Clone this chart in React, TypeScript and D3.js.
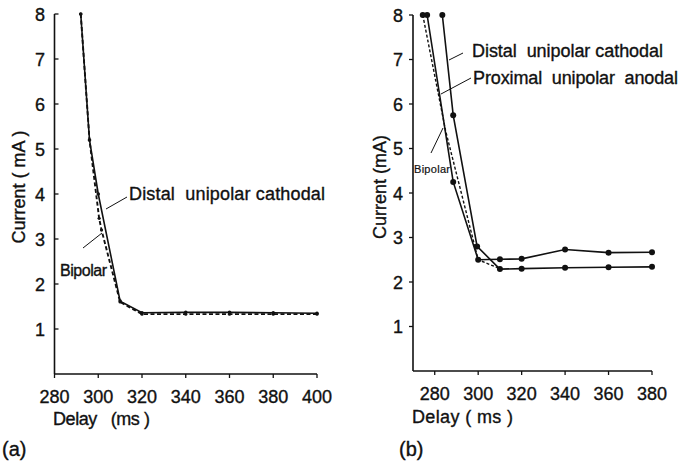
import React from "react";
import * as d3 from "d3";

// Panel (a)
const aTicksX = [280, 300, 320, 340, 360, 380, 400];
const aTicksY = [1, 2, 3, 4, 5, 6, 7, 8];
const aDistalX = [292, 296, 300, 310, 320, 340, 360, 380, 400];
const aDistalY = [8, 5.2, 4.0, 1.62, 1.36, 1.37, 1.37, 1.36, 1.35];
const aBipolarX = [292, 296, 300.4, 301.5, 310, 320, 340, 360, 380, 400];
const aBipolarY = [8, 5.2, 3.46, 3.2, 1.6, 1.33, 1.33, 1.33, 1.33, 1.33];

// Panel (b)
const bTicksX = [280, 300, 320, 340, 360, 380];
const bTicksY = [1, 2, 3, 4, 5, 6, 7, 8];
const bDistalX = [283.5, 288.5, 299.5, 310, 320, 340, 360, 380];
const bDistalY = [8, 5.75, 2.8, 2.29, 2.3, 2.32, 2.33, 2.34];
const bProxX = [276.5, 288.5, 300, 310, 320, 340, 360, 380];
const bProxY = [8, 4.25, 2.5, 2.51, 2.52, 2.73, 2.66, 2.67];
const bBipolarX = [274.5, 285, 300, 310];
const bBipolarY = [8, 5.4, 2.5, 2.3];

const FONT = "'Liberation Sans Narrow', 'Liberation Sans', Arial, sans-serif";

function zip(xs: number[], ys: number[]) {
  return xs.map((x, i) => [x, ys[i]] as [number, number]);
}

export default function App() {
  const ax = d3.scaleLinear().domain([280, 400]).range([54.5, 317]);
  const ay = d3.scaleLinear().domain([0, 8]).range([374, 14]);
  const bx = d3.scaleLinear().domain([270, 380]).range([413, 652]);
  const by = d3.scaleLinear().domain([0, 8]).range([371, 15]);

  const lineA = d3.line<[number, number]>().x((d) => ax(d[0])).y((d) => ay(d[1]));
  const lineB = d3.line<[number, number]>().x((d) => bx(d[0])).y((d) => by(d[1]));

  const aDistal = zip(aDistalX, aDistalY);
  const aBip = zip(aBipolarX, aBipolarY);
  const bDistal = zip(bDistalX, bDistalY);
  const bProx = zip(bProxX, bProxY);
  const bBip = zip(bBipolarX, bBipolarY);

  const txt = (size: number) => ({
    fontFamily: FONT,
    fontSize: size,
    fill: "#111",
    stroke: "#111",
    strokeWidth: 0.35,
  });
  const tickFont = txt(18);

  return (
    <svg
      width={682}
      height={462}
      style={{ position: "absolute", left: 0, top: 0, background: "#fff" }}
    >
      {/* ---------- Panel (a) ---------- */}
      <g>
        <line x1={ax(280)} x2={ax(280)} y1={ay(8)} y2={ay(0)} stroke="#111" strokeWidth={1.6} />
        <line x1={ax(280)} x2={ax(400)} y1={ay(0)} y2={ay(0)} stroke="#111" strokeWidth={1.6} />
        {aTicksX.map((t) => (
          <g key={t}>
            <line x1={ax(t)} x2={ax(t)} y1={ay(0)} y2={ay(0) + 4} stroke="#111" strokeWidth={1.3} />
            <text x={ax(t)} y={403} textAnchor="middle" {...tickFont}>
              {t}
            </text>
          </g>
        ))}
        {aTicksY.map((t) => (
          <g key={t}>
            <line x1={ax(280)} x2={ax(280) + 4} y1={ay(t)} y2={ay(t)} stroke="#111" strokeWidth={1.3} />
            <text x={45} y={ay(t) + 6.5} textAnchor="end" {...tickFont}>
              {t}
            </text>
          </g>
        ))}
        <text x={53} y={425} {...tickFont} textLength={97} lengthAdjust="spacing">
          Delay{"\u00a0\u00a0\u00a0"}(ms )
        </text>
        <text
          transform={`translate(25,${187}) rotate(-90)`}
          textAnchor="middle"
          {...tickFont}
        >
          Current ( mA )
        </text>
        <text x={2} y={456} {...txt(20)}>
          (a)
        </text>

        <path d={lineA(aDistal) || ""} fill="none" stroke="#111" strokeWidth={1.6} />
        <path
          d={lineA(aBip) || ""}
          fill="none"
          stroke="#111"
          strokeWidth={1.9}
          strokeDasharray="4,2.5"
        />
        {aDistal.map((d, i) => (
          <circle key={"ad" + i} cx={ax(d[0])} cy={ay(d[1])} r={1.8} fill="#111" />
        ))}
        {aBip.map((d, i) => (
          <circle key={"ab" + i} cx={ax(d[0])} cy={ay(d[1])} r={1.6} fill="#111" />
        ))}

        <text x={129} y={200} {...tickFont} textLength={196} lengthAdjust="spacing">
          Distal{"\u00a0\u00a0"}unipolar cathodal
        </text>
        <line x1={127} y1={197} x2={106} y2={209} stroke="#111" strokeWidth={1} />
        <text x={60} y={276} {...txt(16)} textLength={47} lengthAdjust="spacing">
          Bipolar
        </text>
        <line x1={83} y1={248} x2={102} y2={233} stroke="#111" strokeWidth={1} />
      </g>

      {/* ---------- Panel (b) ---------- */}
      <g>
        <line x1={bx(270)} x2={bx(270)} y1={by(8)} y2={by(0)} stroke="#111" strokeWidth={1.6} />
        <line x1={bx(270)} x2={bx(380)} y1={by(0)} y2={by(0)} stroke="#111" strokeWidth={1.6} />
        {bTicksX.map((t) => (
          <g key={t}>
            <line x1={bx(t)} x2={bx(t)} y1={by(0)} y2={by(0) + 4} stroke="#111" strokeWidth={1.3} />
            <text x={bx(t)} y={400} textAnchor="middle" {...tickFont}>
              {t}
            </text>
          </g>
        ))}
        {bTicksY.map((t) => (
          <g key={t}>
            <line x1={bx(270) - 4} x2={bx(270)} y1={by(t)} y2={by(t)} stroke="#111" strokeWidth={1.3} />
            <text x={403} y={by(t) + 6.5} textAnchor="end" {...tickFont}>
              {t}
            </text>
          </g>
        ))}
        <text x={412} y={423} {...tickFont} textLength={101} lengthAdjust="spacing">
          Delay ( ms )
        </text>
        <text
          transform={`translate(386,${187}) rotate(-90)`}
          textAnchor="middle"
          {...tickFont}
        >
          Current (mA)
        </text>
        <text x={399} y={456} {...txt(20)}>
          (b)
        </text>

        <path d={lineB(bDistal) || ""} fill="none" stroke="#111" strokeWidth={1.6} />
        <path d={lineB(bProx) || ""} fill="none" stroke="#111" strokeWidth={1.6} />
        <path
          d={lineB(bBip) || ""}
          fill="none"
          stroke="#111"
          strokeWidth={1.4}
          strokeDasharray="3,2"
        />
        {[...bDistal, ...bProx, bBip[0]].map((d, i) => (
          <circle key={"bp" + i} cx={bx(d[0])} cy={by(d[1])} r={3} fill="#111" />
        ))}

        <text x={472} y={57} {...tickFont} textLength={191} lengthAdjust="spacing">
          Distal{"\u00a0\u00a0"}unipolar cathodal
        </text>
        <line x1={463} y1={53} x2={449} y2={60} stroke="#111" strokeWidth={1} />
        <text x={473} y={84} {...tickFont} textLength={205} lengthAdjust="spacing">
          Proximal{"\u00a0\u00a0"}unipolar{"\u00a0\u00a0"}anodal
        </text>
        <line x1={471} y1={78} x2={441} y2={94} stroke="#111" strokeWidth={1} />
        <text x={414} y={173} {...txt(11)} strokeWidth={0.2} textLength={36} lengthAdjust="spacing">
          Bipolar
        </text>
        <line x1={431} y1={153} x2={443} y2={128} stroke="#111" strokeWidth={1} />
      </g>
    </svg>
  );
}
